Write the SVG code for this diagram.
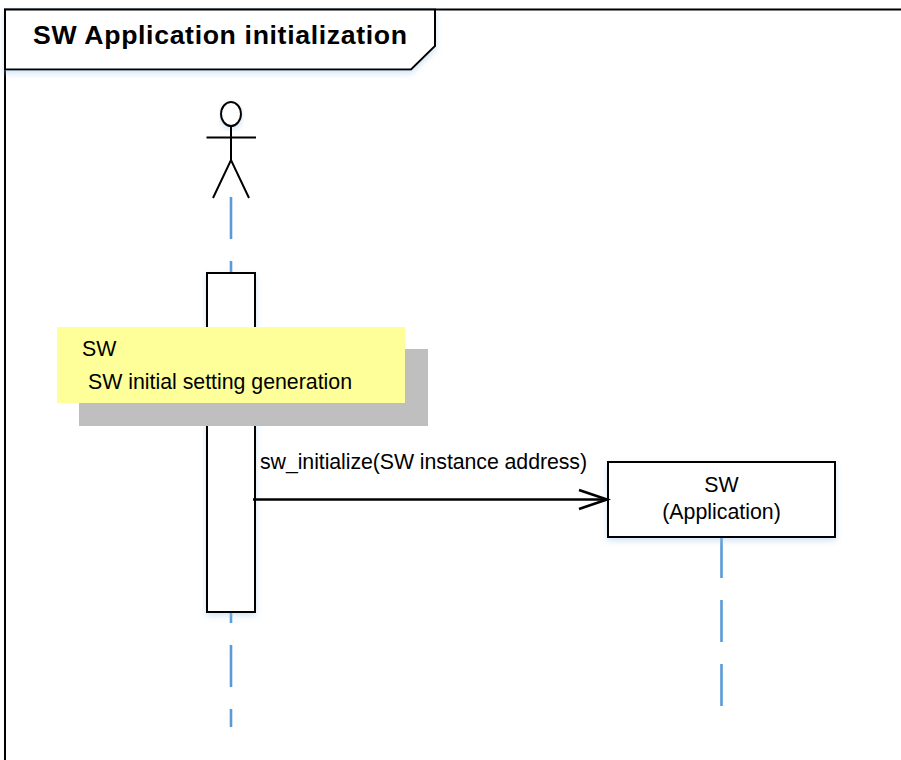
<svg xmlns="http://www.w3.org/2000/svg" width="901" height="760" viewBox="0 0 901 760">
<style>
text{font-family:"Liberation Sans",Arial,sans-serif;fill:#000}
.t{font-size:21.33px}
.ln{fill:none;stroke:#000;stroke-width:2.6}
.box{fill:#fff;stroke:#000;stroke-width:2;filter:url(#sh)}
.life{fill:none;stroke:#5b9bd5;stroke-width:2.6;stroke-dasharray:42 22}
</style>
<defs>
<filter id="sh" x="-10%" y="-10%" width="125%" height="130%">
<feDropShadow dx="0" dy="3" stdDeviation="3" flood-color="#9dc3e6" flood-opacity="0.45"/>
</filter>
<marker id="open" markerUnits="userSpaceOnUse" markerWidth="36" markerHeight="24" refX="33" refY="12" orient="auto">
<path d="M3 2.500L31 12L3 21.500" fill="none" stroke="#000" stroke-width="2.600"/>
</marker>
</defs>
<rect width="901" height="760" fill="#fff"/>
<g id="frame">
<path d="M5 760V9.500H901" fill="none" stroke="#000" stroke-width="2"/>
<path d="M5 9.500H435V46L411 69.500H5Z" class="box"/>
<text x="33" y="44" font-size="26.67px" font-weight="bold" textLength="374">SW Application initialization</text>
</g>
<g id="connectors">
<path class="life" d="M231 197V727"/>
<path class="life" d="M721.500 536V706"/>
</g>
<g id="actor">
<g fill="none" stroke="#000" stroke-width="2">
<ellipse cx="231" cy="114" rx="10" ry="12" fill="#fff" filter="url(#sh)"/>
<path d="M231 126V160M206.500 137.500H256M213 198L231 160L249 198"/>
</g>
</g>
<g id="activation">
<rect x="207" y="273" width="48" height="339" class="box"/>
</g>
<g id="note">
<rect x="79" y="349" width="349" height="77" fill="#bfbfbf"/>
<rect x="57" y="327" width="348" height="76" fill="#ffff99"/>
<text class="t" x="82" y="356">SW</text>
<text class="t" x="88" y="389" textLength="264">SW initial setting generation</text>
</g>
<g id="application">
<rect x="608" y="462" width="227" height="75" class="box"/>
<text class="t" x="721.500" y="492" text-anchor="middle">SW</text>
<text class="t" x="721.500" y="519" text-anchor="middle">(Application)</text>
</g>
<g id="message">
<path d="M253 499.500H609" class="ln" marker-end="url(#open)"/>
<text class="t" x="260" y="469" textLength="327">sw_initialize(SW instance address)</text>
</g>
</svg>
